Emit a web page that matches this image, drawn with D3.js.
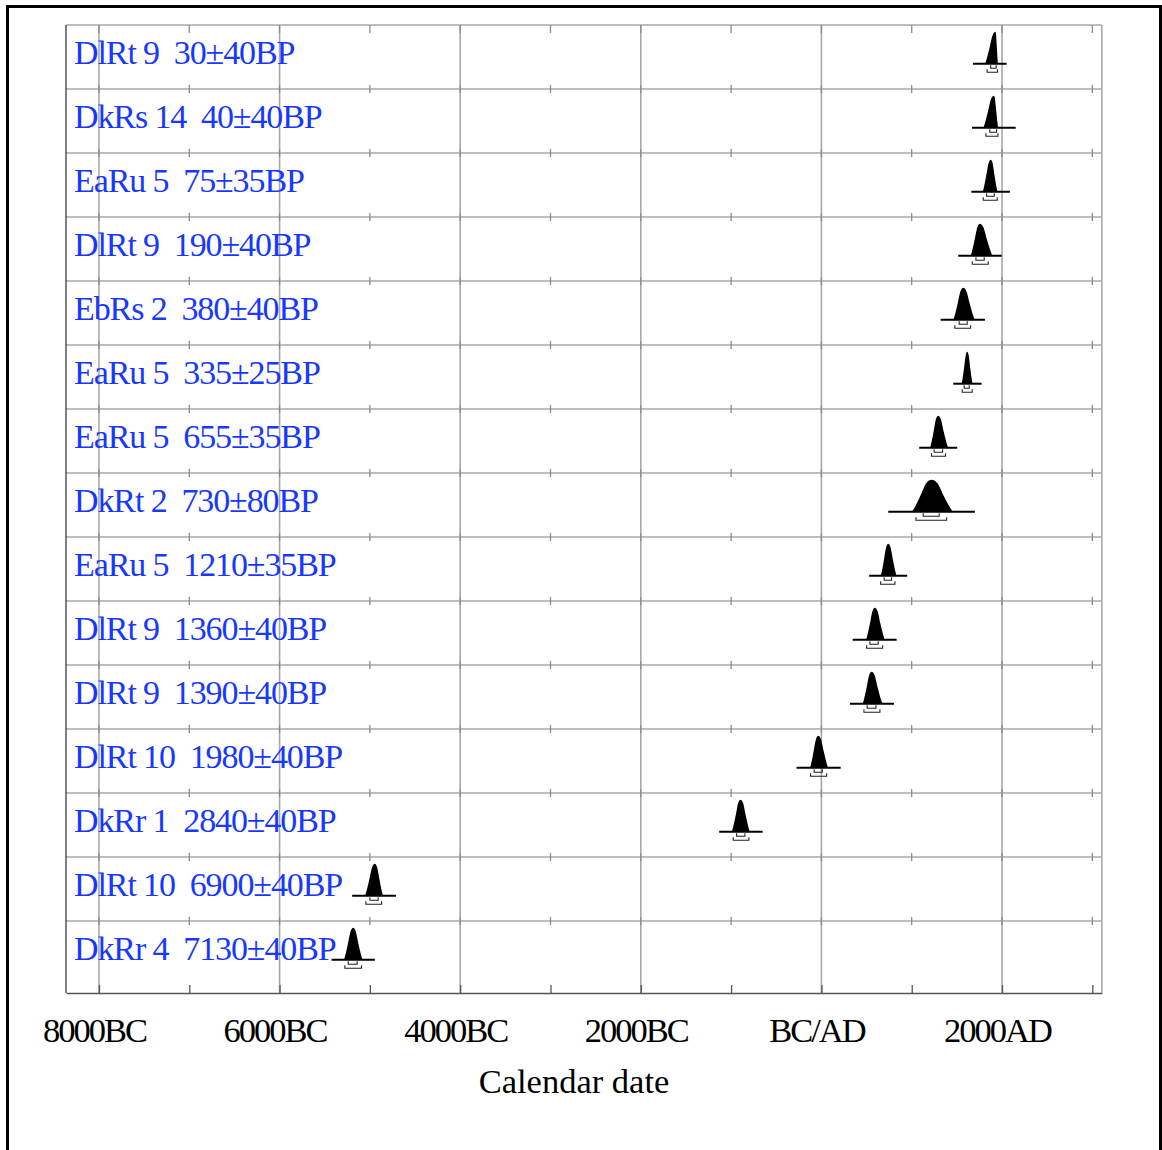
<!DOCTYPE html>
<html>
<head>
<meta charset="utf-8">
<script src="https://cdn.jsdelivr.net/npm/d3@7"></script>
<style>
  html, body { margin: 0; padding: 0; background: #fff; }
  svg { display: block; }
  text { font-family: "Liberation Serif", "Times New Roman", Times, serif; }
</style>
</head>
<body>
<svg id="chart" width="1162" height="1150"></svg>
<script>
// Radiocarbon samples, top to bottom
const labels = [
  "DlRt 9  30±40BP",
  "DkRs 14  40±40BP",
  "EaRu 5  75±35BP",
  "DlRt 9  190±40BP",
  "EbRs 2  380±40BP",
  "EaRu 5  335±25BP",
  "EaRu 5  655±35BP",
  "DkRt 2  730±80BP",
  "EaRu 5  1210±35BP",
  "DlRt 9  1360±40BP",
  "DlRt 9  1390±40BP",
  "DlRt 10  1980±40BP",
  "DkRr 1  2840±40BP",
  "DlRt 10  6900±40BP",
  "DkRr 4  7130±40BP"
];

// Extent of each calibrated distribution (calendar years, negative = BC)
const rangeStart = [1678, 1667, 1661, 1515, 1320, 1460, 1083, 740, 529, 346, 316, -275, -1132, -5196, -5424];
const rangeEnd   = [2051, 2151, 2087, 1996, 1811, 1774, 1504, 1700, 950, 833, 803, 213, -651, -4712, -4945];

// Relative probability levels and the calendar years where each distribution reaches them
const profileLevels = [0, 0.1, 0.5, 0.9, 1, 0.9, 0.5, 0.1, 0];
const profileYears = [
  [1811, 1825, 1862, 1897, 1927, 1934, 1943, 1952, 1955],
  [1792, 1806, 1844, 1879, 1910, 1922, 1937, 1952, 1958],
  [1785, 1796, 1825, 1852, 1875, 1895, 1918, 1942, 1951],
  [1652, 1664, 1697, 1728, 1755, 1792, 1834, 1879, 1896],
  [1460, 1473, 1508, 1541, 1570, 1604, 1643, 1684, 1700],
  [1553, 1560, 1580, 1599, 1615, 1630, 1648, 1667, 1674],
  [1202, 1213, 1242, 1269, 1293, 1322, 1355, 1391, 1404],
  [999, 1026, 1096, 1163, 1220, 1282, 1354, 1431, 1460],
  [656, 666, 693, 718, 740, 764, 792, 822, 833],
  [493, 505, 537, 566, 592, 621, 654, 690, 703],
  [456, 468, 500, 530, 556, 588, 624, 663, 678],
  [-127, -116, -87, -59, -35, -6, 27, 62, 75],
  [-994, -982, -950, -921, -895, -868, -837, -804, -792],
  [-5055, -5042, -5007, -4974, -4945, -4921, -4893, -4864, -4853],
  [-5288, -5276, -5243, -5212, -5185, -5158, -5127, -5093, -5081]
];

// 68.2% and 95.4% highest-density ranges
const range68 = [[1875, 1935], [1865, 1940], [1829, 1914], [1711, 1803], [1526, 1615], [1581, 1637],
  [1249, 1342], [1127, 1304], [695, 777], [537, 629], [507, 604], [-80, 9], [-939, -847], [-5000, -4908], [-5240, -5141]];
const range95 = [[1835, 1950], [1822, 1955], [1792, 1947], [1670, 1847], [1478, 1652], [1559, 1670],
  [1220, 1375], [1047, 1387], [656, 814], [501, 678], [471, 648], [-120, 58], [-977, -803], [-5044, -4870], [-5277, -5092]];

// Calendar axis
const majorYears  = [-8000, -6000, -4000, -2000, 0, 2000];
const majorLabels = ["8000BC", "6000BC", "4000BC", "2000BC", "BC/AD", "2000AD"];
const minorYears  = [-7000, -5000, -3000, -1000, 1000, 3000];
const axisTitle = "Calendar date";

const svg = d3.select("#chart");
const plot = { left: 66, right: 1101.8, top: 25, bottom: 993 };

const x = d3.scaleLinear().domain([-8365, 3105]).range([plot.left, plot.right]);
const y = d3.scaleBand().domain(d3.range(labels.length)).range([plot.top, plot.top + 64 * labels.length]);
const h = d3.scaleLinear().domain([0, 1]).range([0, 32]);

// outer frame
svg.append("rect")
  .attr("x", 7.5).attr("y", 6.5).attr("width", 1153).attr("height", 1160)
  .attr("fill", "none").attr("stroke", "#000").attr("stroke-width", 3);

const grid = svg.append("g").attr("stroke", "#a8a8a8").attr("stroke-width", 1.6);

// vertical grid at major years
grid.selectAll("line.v").data(majorYears).join("line")
  .attr("x1", d => x(d)).attr("x2", d => x(d))
  .attr("y1", plot.top).attr("y2", plot.bottom);

// row separators (and top border)
const rowLines = d3.range(labels.length).map(i => y(i));
grid.selectAll("line.h").data(rowLines).join("line")
  .attr("x1", plot.left).attr("x2", plot.right)
  .attr("y1", d => d).attr("y2", d => d);

// right border
grid.append("line")
  .attr("x1", plot.right).attr("x2", plot.right)
  .attr("y1", plot.top).attr("y2", plot.bottom);

// minor ticks on each row line
const tickG = svg.append("g").attr("stroke", "#8c8c8c").attr("stroke-width", 1.3);
const tickYears = majorYears.concat(minorYears);
rowLines.forEach((ry, i) => {
  tickG.selectAll(null).data(tickYears).join("line")
    .attr("x1", d => x(d)).attr("x2", d => x(d))
    .attr("y1", i === 0 ? ry : ry - 4).attr("y2", ry + 8 - (i === 0 ? 0 : 4));
});

// left border
svg.append("line")
  .attr("x1", plot.left).attr("x2", plot.left)
  .attr("y1", plot.top).attr("y2", plot.bottom)
  .attr("stroke", "#3a3a3a").attr("stroke-width", 1.3);

// bottom axis with labels
const axis = d3.axisBottom(x)
  .tickValues(majorYears.concat(minorYears))
  .tickFormat(d => { const k = majorYears.indexOf(d); return k >= 0 ? majorLabels[k] : ""; })
  .tickSize(-8)
  .tickSizeOuter(0);

const axisG = svg.append("g").attr("transform", `translate(0,${plot.bottom})`).call(axis);
axisG.select(".domain").attr("stroke", "#555").attr("stroke-width", 1.5);
axisG.selectAll(".tick line").attr("stroke", "#555").attr("stroke-width", 1.3);
axisG.selectAll(".tick text")
  .attr("y", 49).attr("dy", null).attr("dx", -5)
  .attr("fill", "#000")
  .style("font-family", "'Liberation Serif', 'Times New Roman', serif")
  .style("font-size", "34.5px")
  .style("letter-spacing", "-2px");

svg.append("text")
  .attr("x", 574).attr("y", 1093)
  .attr("text-anchor", "middle")
  .style("font-size", "34.5px")
  .text(axisTitle);

// sample labels
svg.append("g").selectAll("text").data(labels).join("text")
  .attr("x", 74)
  .attr("y", (d, i) => y(i) + 39.3)
  .attr("fill", "#1838ff")
  .style("font-size", "34px")
  .style("letter-spacing", "-1.1px")
  .style("white-space", "pre")
  .text(d => d);

// calibrated distributions
const distG = svg.append("g");
labels.forEach((lab, i) => {
  const base = y(i) + 38.7;
  const pts = [[rangeStart[i], 0]]
    .concat(profileYears[i].map((yr, k) => [yr, profileLevels[k]]))
    .concat([[rangeEnd[i], 0]]);

  const area = d3.area()
    .x(d => x(d[0]))
    .y0(base)
    .y1(d => base - h(d[1]))
    .curve(d3.curveMonotoneX);

  distG.append("path").attr("d", area(pts)).attr("fill", "#000");

  distG.append("line")
    .attr("x1", x(rangeStart[i])).attr("x2", x(rangeEnd[i]))
    .attr("y1", base).attr("y2", base)
    .attr("stroke", "#000").attr("stroke-width", 2);

  const bracket = (r, yy) => `M${x(r[0])},${yy - 3}V${yy}H${x(r[1])}V${yy - 3}`;
  distG.append("path").attr("d", bracket(range68[i], base + 4.5))
    .attr("fill", "none").attr("stroke", "#222").attr("stroke-width", 1.1);
  distG.append("path").attr("d", bracket(range95[i], base + 8.5))
    .attr("fill", "none").attr("stroke", "#222").attr("stroke-width", 1.1);
});
</script>
</body>
</html>
